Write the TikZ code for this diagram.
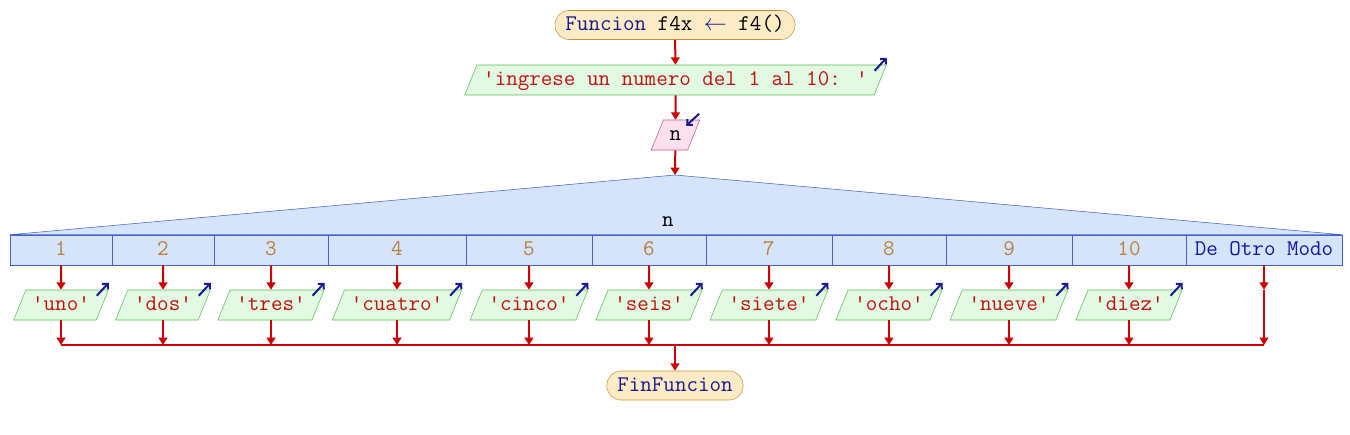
\documentclass[tikz,border=0pt]{standalone}
\usepackage{fontspec}
\usetikzlibrary{shapes.geometric,arrows.meta}
\definecolor{rojo}{HTML}{CC0000}
\definecolor{texto}{HTML}{C01010}
\definecolor{azul}{HTML}{1A1A90}
\definecolor{ocre}{HTML}{B8803A}
\definecolor{termfill}{HTML}{FDEBC6}
\definecolor{termline}{HTML}{C8903C}
\definecolor{salfill}{HTML}{E2FAE2}
\definecolor{salline}{HTML}{5CBC5C}
\definecolor{entfill}{HTML}{FCE0EE}
\definecolor{entline}{HTML}{CC5A8A}
\definecolor{casofill}{HTML}{D6E4FB}
\definecolor{casoline}{HTML}{4262C8}
\tikzset{
  txt/.style={font=\ttfamily\fontsize{16.8pt}{19pt}\selectfont, text height=12pt, text depth=3.5pt},
  terminal/.style={txt, draw=termline, fill=termfill, rounded corners=10.5pt,
    minimum height=21.75pt, inner xsep=7.8pt, inner ysep=3.1pt},
  para/.style={txt, trapezium, trapezium left angle=68, trapezium right angle=112,
    inner xsep=4.8pt, inner ysep=3.5pt},
  salida/.style={para, draw=salline, fill=salfill, text=texto},
  entrada/.style={para, draw=entline, fill=entfill},
  celda/.style={txt, draw=casoline, fill=casofill, minimum height=22.5pt, inner sep=0pt, text=ocre},
  linea/.style={draw=rojo, line width=1.5pt},
  flecha/.style={linea, -{Triangle[length=5.5pt,width=6.5pt]}},
  icono/.style={draw=azul, line width=1.5pt, -{Straight Barb[length=3pt,width=6pt]}}
}
\begin{document}
\begin{tikzpicture}[x=0.75pt,y=-0.75pt]
  \useasboundingbox (0,0) rectangle (1350,435);
  \node[terminal] (ini) at (675,25) {{\color{azul}Funcion} f4x {\color{azul}$\leftarrow$} f4()};
  \node[salida] (msg) at (675.5,80) {'ingrese un numero del 1 al 10: '};
  \node[entrada] (lee) at (675.5,135) {n};
  \coordinate (cima) at (675,175);
  \coordinate (junta) at (675,345);
  \node[terminal] (fin) at (675,385.5) {\color{azul}FinFuncion};
  \draw[flecha] (ini) -- (msg);
  \draw[flecha] (msg) -- (lee);
  \draw[flecha] (lee) -- (cima);
  \draw[icono] ([shift={(-12,6)}]msg.top right corner) -- ([shift={(0,-7)}]msg.top right corner);
  \draw[icono] ([shift={(-1,-6)}]lee.top right corner) -- ([shift={(-14,6)}]lee.top right corner);
  \foreach \cx/\w/\s [count=\i] in {61/76.5/uno,163/76.5/dos,271/85.5/tres,397/103.5/cuatro,
      529/94.5/cinco,649/85.5/seis,769/94.5/siete,889/85.5/ocho,1009/94.5/nueve,1129/85.5/diez}{
    \node[celda, minimum width=\w pt] (c\i) at (\cx,250) {\i};
    \node[salida] (s\i) at (\cx,305) {'\s'};
    \draw[flecha] (c\i) -- (s\i);
    \draw[flecha] (s\i) -- (s\i |- junta);
    \draw[icono] ([shift={(-12,6)}]s\i.top right corner) -- ([shift={(0,-7)}]s\i.top right corner);
  }
  \node[celda, minimum width=117pt, text=azul!80!blue] (c11) at (1264,250) {De Otro Modo};
  \draw[draw=casoline, fill=casofill] (c1.north west) -- (cima) -- (c11.north east) -- cycle;
  \node[txt] (var) at (668,221) {n};
  \coordinate (d) at (c11 |- s1.north);
  \coordinate (dj) at (c11 |- junta);
  \draw[flecha] (c11) -- (d);
  \draw[flecha] (d) -- (dj);
  \draw[linea] (s1 |- junta) -- (dj);
  \draw[flecha] (junta) -- (fin);
\end{tikzpicture}
\end{document}
